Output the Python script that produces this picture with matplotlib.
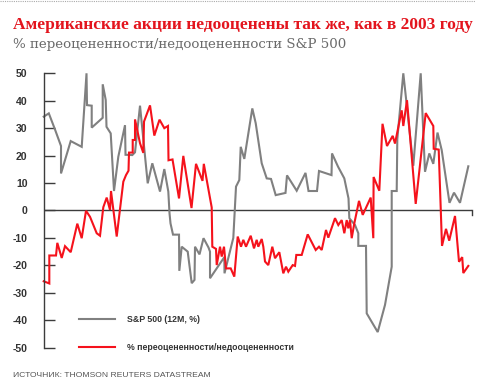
import numpy as np
import matplotlib as mpl
import matplotlib.pyplot as plt
from matplotlib.lines import Line2D

mpl.rcParams.update({
    'axes.unicode_minus': False,
    'font.family': ['Liberation Sans Narrow', 'Liberation Sans', 'DejaVu Sans'],
})

###################################
# Data (x = time position, arbitrary units)
###################################

sp_t = [0.0, 5.1, 11.3, 17.3, 17.3, 27.0, 38.0, 42.8, 43.3, 48.0, 48.0, 59.0, 59.0,
        62.0, 62.8, 67.0, 70.3, 74.6, 81.3, 81.8, 88.6, 91.3, 96.3, 104.0, 108.6,
        116.3, 120.6, 124.6, 125.8, 126.8, 129.3, 135.3, 135.6, 138.0, 144.0, 148.0,
        150.8, 151.3, 155.8, 159.8, 164.8, 166.3, 166.3, 180.6, 180.8, 189.6, 192.3,
        195.6, 197.0, 200.6, 208.6, 212.0, 218.0, 223.0, 227.3, 232.0, 241.8, 243.3,
        253.0, 261.8, 264.8, 273.3, 275.3, 287.8, 288.3, 294.3, 300.6, 304.8, 305.6,
        311.3, 314.6, 314.6, 322.3, 323.0, 334.0, 341.3, 348.0, 348.0, 353.0, 353.6,
        359.6, 369.6, 377.0, 381.3, 385.6, 389.6, 393.8, 398.0, 405.8, 410.3, 416.3,
        424.6]
sp_val = [34.2, 35.4, 29.5, 23.5, 13.5, 25.3, 23.2, 50, 38.4, 38.2, 30.2, 33.8, 46,
          40.3, 30.5, 28.1, 7.1, 19.6, 31.1, 20.3, 20.2, 21.2, 38.2, 9.9, 17.2,
          6.9, 15.1, 6.9, -1, -4.7, -8.8, -8.8, -22, -13.2, -15, -26.5,
          -25.3, -13.2, -16, -10.1, -13.5, -15, -24.7, -17, -22.9, -10, 8.7,
          11.1, 23.2, 18.8, 37.2, 31.8, 17.2, 11.7, 11.5, 5.6, 6.4, 12.8,
          7.2, 13.7, 7.1, 7.1, 14.4, 12.9, 20.8, 16, 11.7, 4.4, -2.8,
          -5.3, -8.3, -12.9, -12.9, -37.5, -44.3, -34.4, -20.5, 7.1, 7.1, 26,
          50, 16.3, 50, 14.1, 20.8, 17, 28.4, 22, 2.8, 6.5, 2.8,
          16.1]

val_t = [0.0, 5.6, 5.6, 12.3, 13.6, 18.0, 21.3, 27.0, 33.6, 38.0, 42.3, 46.3, 53.0,
         56.3, 59.6, 63.0, 66.3, 67.3, 73.0, 79.6, 82.3, 84.8, 85.3, 89.0, 89.0,
         91.3, 91.3, 96.3, 99.6, 100.3, 106.3, 110.6, 115.8, 120.6, 124.3, 124.8,
         128.8, 135.3, 139.6, 147.8, 152.3, 158.8, 160.1, 168.0, 168.6, 172.3, 173.0,
         176.3, 178.0, 180.3, 182.3, 187.0, 190.6, 194.0, 197.3, 199.6, 202.3, 207.0,
         210.3, 213.0, 214.6, 218.0, 219.6, 221.3, 224.6, 228.6, 231.3, 235.6, 239.6,
         242.3, 244.6, 249.0, 251.3, 252.6, 258.0, 264.0, 272.0, 275.3, 278.0, 282.3,
         284.6, 291.3, 294.6, 298.0, 300.6, 303.0, 304.6, 306.3, 308.0, 310.6, 315.3,
         319.0, 327.0, 329.6, 329.9, 335.6, 338.8, 343.3, 349.0, 351.3, 358.0, 359.6,
         363.3, 372.0, 382.0, 389.6, 390.0, 395.0, 398.3, 402.3, 405.5, 411.3, 415.3,
         418.5, 419.6, 424.6]
val_pct = [-25.8, -26.6, -16.4, -16.4, -11.8, -17.3, -13, -15.2, -4.8, -10.1, -0.1, -2.3, -8.3,
           -9.2, 1.2, 4.7, 0.2, 7.1, -9.5, 10.5, 12.9, 14.5, 21.1, 21.1, 25.7,
           25.7, 33.2, 24.5, 21, 32.4, 38.3, 27.3, 33.1, 30, 30.8, 18.3,
           18.6, 4.4, 19.9, 0.9, 17, 10.8, 17, 1.1, -13.2, -14, -19.9,
           -13.2, -16.8, -13.2, -21.1, -21.1, -24.1, -9.5, -13.2, -10.7, -13.2, -9.2,
           -13.8, -10.7, -13.2, -10.4, -13.2, -18.6, -19.9, -13.2, -17.4, -15.2, -22.9,
           -20.5, -22.3, -19.9, -20.2, -16.2, -16.2, -8.7, -14.4, -13.2, -14.4, -7.1,
           -9.9, -2.8, -5.3, -3.5, -8.3, -3.5, -6.5, -3.5, -10.1, -4.7, 3.5,
           -1.6, 4.7, -10.1, 12.2, 7.2, 31.6, 23.5, 27.2, 24.4, 36.5, 30.8,
           40.2, 2.4, 35.5, 30.8, 22.5, 22.2, -12.9, -6.7, -11, -2, -18.7,
           -17, -22.8, -20.2]

yticks = [50, 40, 30, 20, 10, 0, -10, -20, -30, -40, -50]
t_end = 428.6

label_sp = 'S&P 500 (12M, %)'
label_val = '% переоцененности/недооцененности'

GRAY = '#808080'
RED = '#f5121c'
AXC = '#3c3c3c'

###################################
# Plot
###################################

fig = plt.figure(figsize=(4.99, 3.87), dpi=100)
ax = fig.add_axes([0.0876, 0.1016, 0.8589, 0.709])

l1, = ax.plot(sp_t, sp_val, color=GRAY, lw=1.5, clip_on=False, solid_joinstyle='miter')
l2, = ax.plot(val_t, val_pct, color=RED, lw=1.5, clip_on=False, solid_joinstyle='miter')

ax.axhline(0, color=AXC, lw=1.0, zorder=1)
ax.plot([t_end, t_end], [0, -1.6], color=AXC, lw=1.0, clip_on=False)

ax.set_xlim(0, t_end)
ax.set_ylim(-50, 50)
for s in ['top', 'right', 'bottom']:
    ax.spines[s].set_visible(False)
ax.spines['left'].set_color(AXC)
ax.spines['left'].set_linewidth(1.0)
ax.set_xticks([])
ax.set_yticks(yticks)
ax.set_yticklabels([str(v) for v in yticks])
ax.tick_params(axis='y', direction='in', length=7.7, width=1.0, color=AXC,
               pad=11.5, labelsize=7.6, labelcolor='#333333')
for lab in ax.get_yticklabels():
    lab.set_fontweight('bold')
    lab.set_family(['Liberation Sans', 'DejaVu Sans'])

leg = ax.legend([l1, l2], [label_sp, label_val], loc='upper left',
                bbox_to_anchor=(0.083, 0.118), frameon=False,
                prop={'size': 6.3, 'weight': 'bold'}, handlelength=4.1,
                handletextpad=1.4, labelspacing=2.1, borderpad=0, borderaxespad=0)
for txt in leg.get_texts():
    txt.set_color('#333333')

fig.text(0.0255, 0.924, 'Американские акции недооценены так же, как в 2003 году',
         color='#e3141d', fontsize=12.5, fontweight='bold',
         family=['Liberation Serif', 'DejaVu Serif'])
fig.text(0.0255, 0.877, '% переоцененности/недооцененности S&P 500',
         color='#6a6a6a', fontsize=9.6, family=['DejaVu Serif'])
fig.text(0.0255, 0.027, 'ИСТОЧНИК: THOMSON REUTERS DATASTREAM',
         color='#555555', fontsize=6.1)

fig.add_artist(Line2D([0.0, 0.952], [0.998, 0.998], transform=fig.transFigure,
                      color='#aaaaaa', lw=0.8, ls=(0, (1, 1))))

plt.savefig('out.png', dpi=100)
plt.close()
